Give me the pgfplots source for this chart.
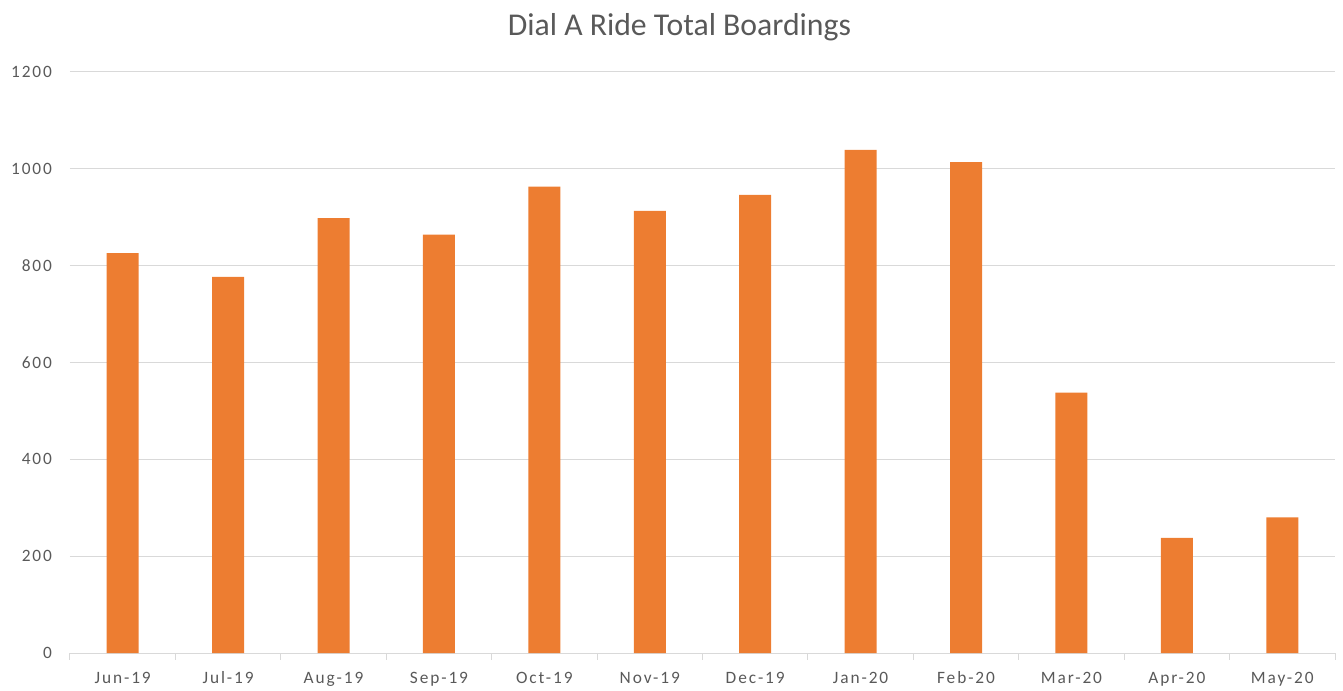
\documentclass[border=0pt]{standalone}
\usepackage{pgfplots}
\pgfplotsset{compat=1.18}
\usepackage{fontspec}
\setmainfont{Carlito}
\newfontfamily\tickfont[LetterSpace=11]{Carlito}
\definecolor{barorange}{HTML}{ED7D31}
\definecolor{gridgray}{HTML}{D9D9D9}
\definecolor{textgray}{HTML}{595959}
\begin{document}
\begin{tikzpicture}
\useasboundingbox (-52.5pt,-27.75pt) rectangle (954.75pt,489.75pt);
\begin{axis}[
  at={(0,0)}, anchor=south west,
  scale only axis,
  width=948.75pt, height=435.75pt,
  xmin=-0.5, xmax=11.5,
  ymin=0, ymax=1200,
  ytick={0,200,...,1200},
  xtick={0,...,11},
  xticklabels={Jun-19,Jul-19,Aug-19,Sep-19,Oct-19,Nov-19,Dec-19,Jan-20,Feb-20,Mar-20,Apr-20,May-20},
  ymajorgrids,
  grid style={gridgray, line width=0.75pt},
  axis line style={draw=none},
  axis x line*=bottom,
  x axis line style={draw=gridgray, line width=0.75pt},
  y axis line style={draw=none},
  major tick length=0pt,
  extra x ticks={-0.5,0.5,...,11.5},
  extra x tick labels={},
  extra x tick style={major tick length=5pt, tick align=outside, tick style={gridgray, line width=0.75pt}, grid=none},
  ticklabel style={font=\tickfont\fontsize{13}{15}\selectfont, text=textgray},
  yticklabel style={xshift=-10pt},
  xticklabel style={anchor=base, yshift=-23pt},
  /pgf/number format/1000 sep={},
  /pgf/number format/assume math mode=true,
  clip=false,
]
\addplot[ybar, bar width=24pt, fill=barorange, draw=none] coordinates {
  (0,826) (1,777) (2,898) (3,864) (4,963) (5,913)
  (6,946) (7,1039) (8,1014) (9,538) (10,238) (11,280)
};
\end{axis}
\node[text=textgray, font=\fontsize{23.8}{28}\selectfont] at (457.1pt,469.5pt) {Dial A Ride Total Boardings};
\end{tikzpicture}
\end{document}
